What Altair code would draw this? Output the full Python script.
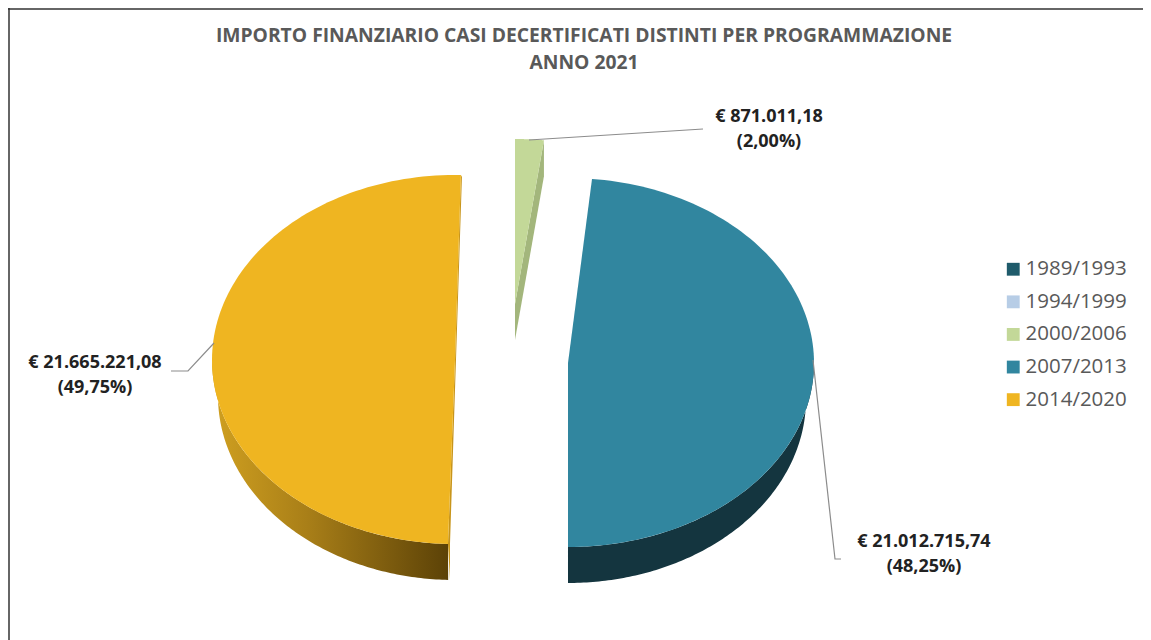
import math
import altair as alt

W, H = 1135, 632
OX, OY = 8, 8  # page margin

periods = ["1989/1993", "1994/1999", "2000/2006", "2007/2013", "2014/2020"]
amounts = [0.0, 0.0, 871011.18, 21012715.74, 21665221.08]
colours = ["#1f5b6b", "#b7cde6", "#c3d898", "#31869f", "#efb521"]
amount_labels = ["€ 871.011,18\n(2,00%)", "€ 21.012.715,74\n(48,25%)", "€ 21.665.221,08\n(49,75%)"]
title_lines = ["IMPORTO FINANZIARIO CASI DECERTIFICATI DISTINTI PER PROGRAMMAZIONE", "ANNO 2021"]

# pie geometry per visible slice: centre, half axes, lower-rim half axis, angle adjustments
geom = {
    "2000/2006": dict(cx=515, cy=304, a=231, a2=231, bt=165, bb=165, rot=0.0, adj0=0.0, adj1=0.0),
    "2007/2013": dict(cx=568, cy=363, a=246, a2=238, bt=185, bb=184, rot=-1.6, adj0=0.0, adj1=0.7),
    "2014/2020": dict(cx=455, cy=360, a=243, a2=237, bt=185, bb=184, rot=1.4, adj0=-0.65, adj1=0.0),
}
DEPTH = 36


def pt(g, deg, dy=0):
    t = math.radians(deg)
    c = math.cos(t)
    a = g["a2"] if dy else g["a"]
    return [
        g["cx"] + a * math.sin(t) - OX,
        g["cy"] + dy - (g["bt"] if c > 0 else g["bb"]) * c - OY,
    ]


def arc_pts(g, d0, d1, dy=0, n=120):
    return [pt(g, d0 + (d1 - d0) * i / n, dy) for i in range(n + 1)]


total = sum(amounts)
spans = {}
acc = 0.0
for p, v in zip(periods, amounts):
    if v > 0:
        g = geom[p]
        spans[p] = (
            acc / total * 360 + g["rot"] + g["adj0"],
            (acc + v) / total * 360 + g["rot"] + g["adj1"],
        )
    acc += v


def feature(coords, series, kind="Polygon"):
    if kind == "Polygon":
        geometry = {"type": "Polygon", "coordinates": [coords + [coords[0]]]}
    else:
        geometry = {"type": "LineString", "coordinates": coords}
    return {"type": "Feature", "geometry": geometry, "properties": {"series": series}}


tops = []
for p, (d0, d1) in spans.items():
    g = geom[p]
    tops.append(feature([[g["cx"] - OX, g["cy"] - OY]] + arc_pts(g, d0, d1), p))


def side(p, d0, d1):
    g = geom[p]
    return feature(arc_pts(g, d0, d1) + arc_pts(g, d1, d0, DEPTH), p)


teal_end = spans["2007/2013"][1]
yel_start = spans["2014/2020"][0]
teal_side = side("2007/2013", 90, teal_end)
yellow_side = side("2014/2020", yel_start, 270)

gy = geom["2014/2020"]
yc = [gy["cx"] - OX, gy["cy"] - OY]
ytop = pt(gy, spans["2014/2020"][1])
ybot = pt(gy, yel_start)
yellow_cut = feature([ytop, [ytop[0] + 1, ytop[1] + 2], [ybot[0] + 2, ybot[1]], [ybot[0] + 2, ybot[1] + DEPTH], ybot, yc], "2014/2020")

gg = geom["2000/2006"]
gtop = pt(gg, spans["2000/2006"][1])
gc = [gg["cx"] - OX, gg["cy"] - OY]
green_side = feature([gtop, [gtop[0], gtop[1] + DEPTH], [gc[0], gc[1] + DEPTH], gc], "2000/2006")


def geo(features, **mark):
    return alt.Chart(alt.Data(values=features)).mark_geoshape(**mark).project(type="identity")


frame = geo([feature([[0, 0], [W, 0], [W, H], [0, H]], "frame")], fill="white", strokeWidth=0)

gradient = alt.Gradient(
    gradient="linear", x1=0, y1=0, x2=1, y2=0,
    stops=[
        alt.GradientStop(color="#d0a020", offset=0),
        alt.GradientStop(color="#a97f18", offset=0.4),
        alt.GradientStop(color="#5c4207", offset=1),
    ],
)

walls = [
    geo([teal_side], fill="#14353f", strokeWidth=0),
    geo([yellow_side], fill=gradient, strokeWidth=0),
    geo([yellow_cut], fill="#c8951b", strokeWidth=0),
    geo([green_side], fill="#a3b67c", strokeWidth=0),
]

top_layer = geo(tops, strokeWidth=0).encode(
    color=alt.Color(
        "properties.series:N",
        scale=alt.Scale(domain=periods, range=colours),
        legend=alt.Legend(
            title=None, orient="none", legendX=1003 - OX, legendY=259 - OY,
            symbolType="square", symbolSize=165, symbolStrokeWidth=0,
            labelFontSize=20.5, labelFont="Open Sans", labelColor="#595959",
            rowPadding=11.6, labelOffset=2, labelLimit=200,
        ),
    )
)

leader_lines = [
    [[529, 140], [703, 129]],
    [[813, 360], [835, 559], [841, 559]],
    [[214, 343], [188, 371], [171, 371]],
]
leaders = geo(
    [feature([[x - OX, y - OY] for x, y in ln], "leader", "LineString") for ln in leader_lines],
    filled=False, stroke="#8c8c8c", strokeWidth=1.2,
)


def text(value, x, y, **kw):
    return alt.Chart(alt.Data(values=[{"t": value}])).mark_text(
        x=x - OX, y=y - OY, align="center", baseline="middle", lineBreak="\n", **kw
    ).encode(text="t:N")


title1 = text(title_lines[0], 584, 36, font="Open Sans", fontWeight="bold", fontSize=19.3, color="#595959")
title2 = text(title_lines[1], 584, 63, font="Open Sans", fontWeight="bold", fontSize=19.3, color="#595959")

label_style = dict(font="Open Sans", fontWeight="bold", fontSize=18, color="#222222", lineHeight=25)
lab1 = text(amount_labels[0], 769, 117, **label_style)
lab2 = text(amount_labels[1], 924, 542, **label_style)
lab3 = text(amount_labels[2], 95, 363, **label_style)

border_left = alt.Chart(alt.Data(values=[{"a": 1}])).mark_rule(color="#333333", strokeWidth=1.5).encode(
    x=alt.value(1), y=alt.value(0), y2=alt.value(H)
)
border_top = alt.Chart(alt.Data(values=[{"a": 1}])).mark_rule(color="#333333", strokeWidth=1.5).encode(
    x=alt.value(0), x2=alt.value(W), y=alt.value(1)
)

chart = alt.layer(
    frame, *walls, top_layer, leaders, title1, title2, lab1, lab2, lab3, border_left, border_top
).properties(
    width=W, height=H, padding=0, autosize=alt.AutoSizeParams(type="none"), background="white"
).configure_view(stroke=None)

chart.save("out.html", embed_options={"renderer": "svg", "actions": False})
